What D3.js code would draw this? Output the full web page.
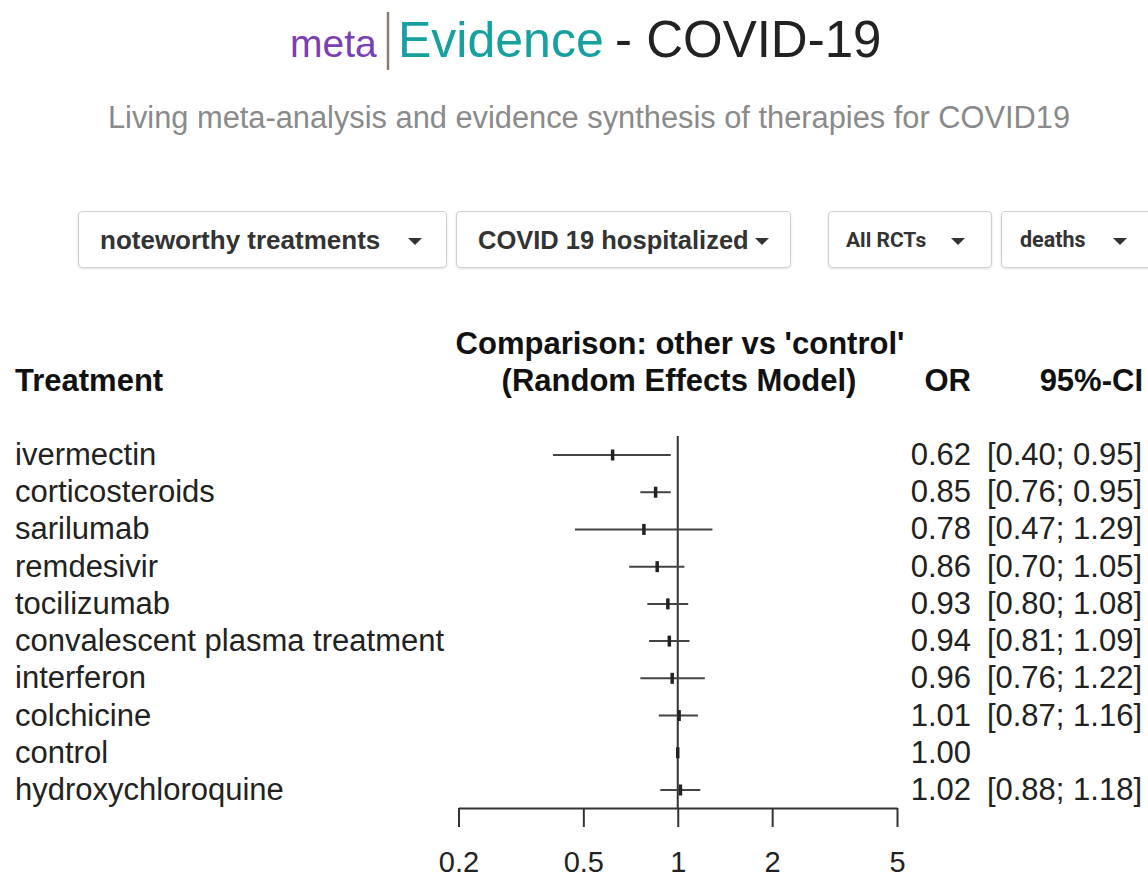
<!DOCTYPE html>
<html>
<head>
<meta charset="utf-8">
<script src="https://cdn.jsdelivr.net/npm/d3@7"></script>
<style>
  html, body { margin: 0; padding: 0; background: #fff; }
  svg { display: block; }
</style>
</head>
<body>
<svg id="chart" width="1148" height="880"></svg>
<script>
// ---- data ----
const treatments = ["ivermectin", "corticosteroids", "sarilumab", "remdesivir", "tocilizumab",
  "convalescent plasma treatment", "interferon", "colchicine", "control", "hydroxychloroquine"];
const orValues = [0.62, 0.85, 0.78, 0.86, 0.93, 0.94, 0.96, 1.01, 1.00, 1.02];
const ciLower = [0.40, 0.76, 0.47, 0.70, 0.80, 0.81, 0.76, 0.87, null, 0.88];
const ciUpper = [0.95, 0.95, 1.29, 1.05, 1.08, 1.09, 1.22, 1.16, null, 1.18];
const tickValues = [0.2, 0.5, 1, 2, 5];
const tickLabels = ["0.2", "0.5", "1", "2", "5"];
const dropdownLabels = ["noteworthy treatments", "COVID 19 hospitalized", "All RCTs", "deaths"];

const svg = d3.select("#chart");
const FONT = "'Liberation Sans', Arial, Helvetica, sans-serif";
const idx = d => treatments.indexOf(d);

// ---- title ----
svg.append("text").attr("x", 290).attr("y", 57).attr("font-family", FONT)
  .attr("font-size", 39).attr("fill", "#7a3eb6").text("meta");
svg.append("line").attr("x1", 388).attr("x2", 388).attr("y1", 12).attr("y2", 70)
  .attr("stroke", "#8a7d70").attr("stroke-width", 2.5);
svg.append("text").attr("x", 398).attr("y", 57).attr("font-family", FONT).attr("font-size", 50)
  .attr("fill", "#17a0a0").text("Evidence");
svg.append("text").attr("x", 615).attr("y", 57).attr("font-family", FONT).attr("font-size", 51)
  .attr("fill", "#222").text("- COVID-19");

svg.append("text").attr("x", 589).attr("y", 128).attr("text-anchor", "middle")
  .attr("font-family", FONT).attr("font-size", 30.8).attr("fill", "#8a8a8a")
  .text("Living meta-analysis and evidence synthesis of therapies for COVID19");

// ---- dropdowns ----
const defs = svg.append("defs");
const f = defs.append("filter").attr("id", "sh").attr("x", "-5%").attr("y", "-10%").attr("width", "110%").attr("height", "130%");
f.append("feDropShadow").attr("dx", 0).attr("dy", 1).attr("stdDeviation", 1).attr("flood-color", "#000").attr("flood-opacity", 0.12);

const boxes = [
  {x: 78, w: 368, tx: 100, fs: 26, ff: FONT, cx: 415, ty: 249},
  {x: 456, w: 334, tx: 478, fs: 25.5, ff: FONT, cx: 762, ty: 249},
  {x: 828, w: 163, tx: 846, fs: 21, ff: "Roboto, " + FONT, cx: 958, ty: 247},
  {x: 1001, w: 170, tx: 1020, fs: 21.5, ff: "Roboto, " + FONT, cx: 1120, ty: 247}
];
boxes.forEach((b, i) => {
  const g = svg.append("g");
  g.append("rect").attr("x", b.x + 0.5).attr("y", 211.5).attr("width", b.w).attr("height", 56)
    .attr("rx", 4).attr("fill", "#fff").attr("stroke", "#d0d0d0").attr("stroke-width", 1.2)
    .attr("filter", "url(#sh)");
  g.append("text").attr("x", b.tx).attr("y", b.ty).attr("font-family", b.ff)
    .attr("font-size", b.fs).attr("font-weight", "bold").attr("fill", "#333").text(dropdownLabels[i]);
  g.append("path").attr("d", `M${b.cx - 7},238 L${b.cx + 7},238 L${b.cx},245 Z`).attr("fill", "#333");
});

// ---- forest plot ----
const x = d3.scaleLog().domain([0.2, 5]).range([458.5, 897]);
const y = d3.scalePoint().domain(treatments).range([455, 790]);
const LFS = 31;

// headers
const hdr = (tx, ty, anchor, s) => svg.append("text").attr("x", tx).attr("y", ty)
  .attr("text-anchor", anchor).attr("font-family", FONT).attr("font-size", LFS)
  .attr("font-weight", "bold").attr("fill", "#111").text(s);
hdr(15, 391, "start", "Treatment");
hdr(680, 354, "middle", "Comparison: other vs 'control'");
hdr(679, 391, "middle", "(Random Effects Model)");
hdr(971, 391, "end", "OR");
hdr(1143, 391, "end", "95%-CI");

// reference line
svg.append("line").attr("x1", x(1)).attr("x2", x(1)).attr("y1", 436).attr("y2", 808)
  .attr("stroke", "#333").attr("stroke-width", 2);

const rows = svg.append("g").selectAll("g").data(treatments).join("g");
rows.append("text").attr("x", 15).attr("y", d => y(d) + 10).attr("font-family", FONT)
  .attr("font-size", LFS).attr("fill", "#222").text(d => d);
rows.filter(d => ciLower[idx(d)] != null).append("line")
  .attr("x1", d => x(ciLower[idx(d)])).attr("x2", d => x(ciUpper[idx(d)]))
  .attr("y1", d => y(d)).attr("y2", d => y(d))
  .attr("stroke", "#444").attr("stroke-width", 2);
rows.append("rect")
  .attr("x", d => x(orValues[idx(d)]) - 1.75).attr("y", d => y(d) - 5.5)
  .attr("width", 3.5).attr("height", 11).attr("fill", "#222");
rows.append("text").attr("x", 971).attr("y", d => y(d) + 10).attr("text-anchor", "end")
  .attr("font-family", FONT).attr("font-size", LFS).attr("fill", "#222")
  .text(d => orValues[idx(d)].toFixed(2));
rows.filter(d => ciLower[idx(d)] != null).append("text").attr("x", 1142).attr("y", d => y(d) + 10)
  .attr("text-anchor", "end").attr("font-family", FONT).attr("font-size", LFS).attr("fill", "#222")
  .text(d => `[${ciLower[idx(d)].toFixed(2)}; ${ciUpper[idx(d)].toFixed(2)}]`);

// axis
const AFS = 29;
const axis = d3.axisBottom(x).tickValues(tickValues).tickFormat((d, i) => tickLabels[i])
  .tickSize(19).tickSizeOuter(0).tickPadding(24);
const ax = svg.append("g").attr("transform", "translate(0,808)").call(axis);
ax.select(".domain").attr("stroke", "#333").attr("stroke-width", 2);
ax.selectAll(".tick line").attr("stroke", "#333").attr("stroke-width", 2);
ax.selectAll(".tick text").attr("font-family", FONT).attr("font-size", AFS).attr("fill", "#222");
</script>
</body>
</html>
